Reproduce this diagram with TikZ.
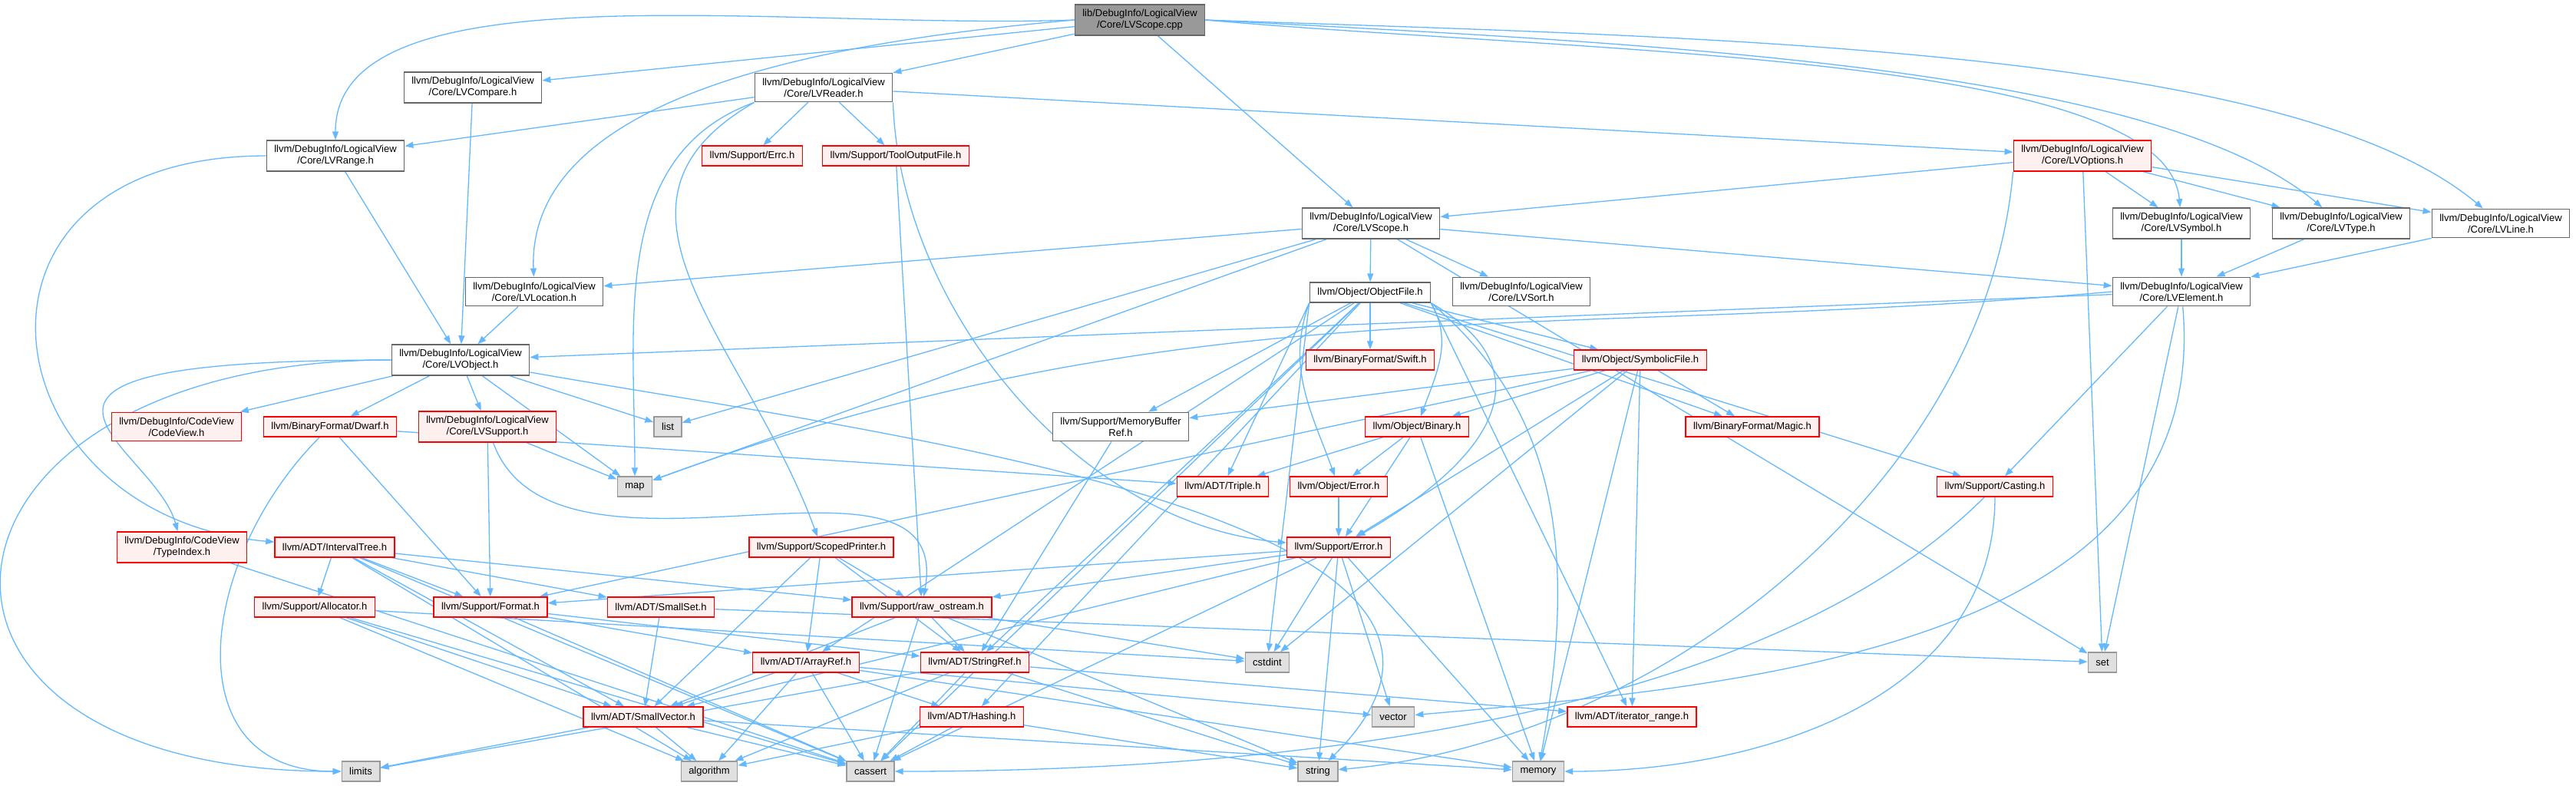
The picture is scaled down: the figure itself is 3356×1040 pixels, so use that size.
\documentclass[tikz,border=0pt]{standalone}
\usepackage{fontspec}
\setmainfont{Liberation Sans}
\usetikzlibrary{arrows.meta}
\definecolor{edgeblue}{HTML}{63B8FF}
\definecolor{trfill}{HTML}{FFF0F0}
\definecolor{sysfill}{HTML}{E0E0E0}
\definecolor{sysline}{HTML}{999999}
\definecolor{hdrline}{HTML}{666666}
\pgfdeclarelayer{bg}
\pgfsetlayers{bg,main}
\begin{document}
\begin{tikzpicture}[x=0.1pt, y=0.1pt,
  box/.style={rectangle, line width=0.14pt, font=\fontsize{1.3}{1.5}\selectfont,
    align=center, inner xsep=1pt, inner ysep=0.65pt, minimum height=2.6pt},
  hdr/.style={box, draw=hdrline, fill=white},
  trunc/.style={box, draw=red, fill=trfill},
  sys/.style={box, draw=sysline, fill=sysfill},
  root/.style={box, draw=hdrline, fill=sysline},
  every edge/.style={draw=edgeblue, line width=0.13pt,
    -{Triangle[length=1.1pt,width=0.8pt]}}]
  \useasboundingbox (0,0) rectangle (3356,-1040);

  % 第一层：源文件与直接包含的头文件
  \node[root] (cpp) at (1485,-26) {lib/DebugInfo/LogicalView\\/Core/LVScope.cpp};
  \node[hdr] (cmp) at (616,-114) {llvm/DebugInfo/LogicalView\\/Core/LVCompare.h};
  \node[hdr] (rdr) at (1073,-114) {llvm/DebugInfo/LogicalView\\/Core/LVReader.h};
  \node[hdr] (rng) at (437,-203) {llvm/DebugInfo/LogicalView\\/Core/LVRange.h};
  \node[trunc] (errc) at (980,-203) {llvm/Support/Errc.h};
  \node[trunc] (tof) at (1167,-203) {llvm/Support/ToolOutputFile.h};
  \node[trunc] (opt) at (2713,-203) {llvm/DebugInfo/LogicalView\\/Core/LVOptions.h};
  \node[hdr] (scph) at (1786,-291) {llvm/DebugInfo/LogicalView\\/Core/LVScope.h};
  \node[hdr] (sym) at (2842,-291) {llvm/DebugInfo/LogicalView\\/Core/LVSymbol.h};
  \node[hdr] (typ) at (3050,-291) {llvm/DebugInfo/LogicalView\\/Core/LVType.h};
  \node[hdr] (lvline) at (3258,-291) {llvm/DebugInfo/LogicalView\\/Core/LVLine.h};

  % 中间层
  \node[hdr] (loc) at (696,-380) {llvm/DebugInfo/LogicalView\\/Core/LVLocation.h};
  \node[hdr] (obf) at (1785,-381) {llvm/Object/ObjectFile.h};
  \node[hdr] (sort) at (1982,-380) {llvm/DebugInfo/LogicalView\\/Core/LVSort.h};
  \node[hdr] (elem) at (2842,-380) {llvm/DebugInfo/LogicalView\\/Core/LVElement.h};
  \node[hdr] (obj) at (600,-469) {llvm/DebugInfo/LogicalView\\/Core/LVObject.h};
  \node[trunc] (swift) at (1785,-469) {llvm/BinaryFormat/Swift.h};
  \node[trunc] (symf) at (2137,-469) {llvm/Object/SymbolicFile.h};
  \node[trunc] (cv) at (230,-556) {llvm/DebugInfo/CodeView\\/CodeView.h};
  \node[trunc] (dwarf) at (430,-556) {llvm/BinaryFormat/Dwarf.h};
  \node[trunc] (sup) at (635,-556) {llvm/DebugInfo/LogicalView\\/Core/LVSupport.h};
  \node[sys] (list) at (870,-556) {list};
  \node[hdr] (mbr) at (1460,-556) {llvm/Support/MemoryBuffer\\Ref.h};
  \node[trunc] (bin) at (1846,-556) {llvm/Object/Binary.h};
  \node[trunc] (magic) at (2283,-556) {llvm/BinaryFormat/Magic.h};
  \node[sys] (map) at (827,-634) {map};
  \node[trunc] (triple) at (1593,-634) {llvm/ADT/Triple.h};
  \node[trunc] (oerr) at (1744,-634) {llvm/Object/Error.h};
  \node[trunc] (cast) at (2599,-634) {llvm/Support/Casting.h};
  \node[trunc] (tidx) at (237,-713) {llvm/DebugInfo/CodeView\\/TypeIndex.h};
  \node[trunc] (itree) at (436,-713) {llvm/ADT/IntervalTree.h};
  \node[trunc] (sprn) at (1070,-713) {llvm/Support/ScopedPrinter.h};
  \node[trunc] (err) at (1744,-713) {llvm/Support/Error.h};

  % 底层：ADT 与标准库
  \node[trunc] (alloc) at (410,-791) {llvm/Support/Allocator.h};
  \node[trunc] (fmt) at (639,-791) {llvm/Support/Format.h};
  \node[trunc] (sset) at (861,-791) {llvm/ADT/SmallSet.h};
  \node[trunc] (ros) at (1201,-791) {llvm/Support/raw\_ostream.h};
  \node[trunc] (aref) at (1050,-863) {llvm/ADT/ArrayRef.h};
  \node[trunc] (sref) at (1270,-863) {llvm/ADT/StringRef.h};
  \node[sys] (cstdint) at (1651,-863) {cstdint};
  \node[sys] (set) at (2739,-863) {set};
  \node[trunc] (svec) at (838,-934) {llvm/ADT/SmallVector.h};
  \node[trunc] (hash) at (1266,-934) {llvm/ADT/Hashing.h};
  \node[sys] (vector) at (1815,-934) {vector};
  \node[trunc] (itr) at (2126,-934) {llvm/ADT/iterator\_range.h};
  \node[sys] (limits) at (470,-1005) {limits};
  \node[sys] (algo) at (924,-1005) {algorithm};
  \node[sys] (cassert) at (1134,-1005) {cassert};
  \node[sys] (string) at (1717,-1005) {string};
  \node[sys] (memory) at (2004,-1005) {memory};

  % 包含关系（箭头由包含者指向被包含者）
  \begin{pgfonlayer}{bg}
  \path (cpp) edge (scph) edge (cmp) edge (rdr);
  \path (cpp.west) edge[out=182, in=90, in looseness=0.6] (rng)
    edge[out=185, in=92, in looseness=0.8] (loc);
  \path (cpp.east) edge[out=-5, in=95, in looseness=0.4] (sym)
    edge[out=-3, in=140, in looseness=0.5] (typ)
    edge[out=-2, in=140, in looseness=0.5] (lvline);
  \path (cmp) edge (obj);
  \path (rdr) edge (opt) edge (rng) edge (errc) edge (tof);
  \path (rdr.south west) edge[out=-160, in=90] (map)
    edge[out=-150, in=110, looseness=1.2] (sprn);
  \path (rdr.south east) edge[out=-88, in=175, looseness=0.9] (err);
  \path (rng) edge (obj);
  \path (rng.west) edge[out=180, in=175, out looseness=2.2, in looseness=1.92] (itree);
  \path (tof) edge (ros);
  \path (opt) edge (scph) edge (sym) edge (typ) edge (lvline) edge (set);
  \path (opt.south west) edge[out=-95, in=5, looseness=0.9] (string);
  \path (scph) edge (elem) edge (loc) edge (sort) edge (obf)
    edge (list) edge (map) edge (set);
  \path (sym) edge (elem);
  \path (typ) edge (elem);
  \path (lvline) edge (elem);
  \path (loc) edge (obj);
  \path (elem) edge (obj) edge (cast) edge (set)
    edge[out=-85, in=5] (vector);
  \path (elem.west) edge[out=185, in=20] (map);
  \path (obj) edge (dwarf) edge (cv) edge (sup) edge (list) edge (map)
    edge[out=-10, in=45] (string);
  \path (obj.west) edge[out=180, in=105, out looseness=4.3, in looseness=0.85] (tidx)
    edge[out=180, in=180, looseness=3] (limits);
  \path (obf) edge (aref) edge (hash) edge (sref) edge (magic) edge (swift)
    edge (symf) edge (cast) edge (mbr) edge (cassert);
  \path (obf.south west) edge (triple) edge (cstdint)
    edge[out=-110, in=110] (oerr);
  \path (obf.south east) edge[out=-60, in=70] (bin) edge (itr)
    edge[out=-30, in=30, looseness=1.5] (err)
    edge[out=-40, in=80] (memory);
  \path (symf) edge (itr) edge (magic) edge (bin) edge (err) edge (fmt)
    edge (mbr) edge (cstdint) edge (memory);
  \path (mbr) edge (sref);
  \path (bin) edge (oerr) edge (triple) edge (err) edge (memory);
  \path (oerr) edge (err);
  \path (cast) edge[out=-135, in=0, looseness=0.76] (cassert)
    edge[out=-90, in=0] (memory);
  \path (dwarf) edge (fmt) edge (triple)
    edge[out=225, in=180, looseness=1.3] (limits);
  \path (sup) edge (fmt) edge (map) edge[out=-70, in=80] (ros);
  \path (tidx) edge (cassert);
  \path (itree) edge (alloc) edge (fmt) edge (sset) edge (svec) edge (ros)
    edge (algo) edge (cassert);
  \path (sprn) edge (svec) edge (aref) edge (sref) edge (ros);
  \path (err) edge (fmt) edge (ros) edge (svec) edge (cassert) edge (cstdint)
    edge (string) edge (vector) edge (memory);
  \path (alloc) edge (svec) edge (algo) edge (cassert) edge (cstdint);
  \path (fmt) edge (aref) edge (sref) edge (cassert);
  \path (sset) edge (svec) edge (set);
  \path (ros) edge (svec) edge (sref) edge (cassert) edge (cstdint) edge (string);
  \path (aref) edge (hash) edge (svec) edge (algo) edge (cassert)
    edge (memory) edge (vector);
  \path (sref) edge (itr) edge (algo) edge (cassert) edge (limits) edge (string);
  \path (svec) edge (algo) edge (cassert) edge (limits) edge (memory);
  \path (hash) edge (algo) edge (cassert) edge (string);
  \end{pgfonlayer}
\end{tikzpicture}
\end{document}
